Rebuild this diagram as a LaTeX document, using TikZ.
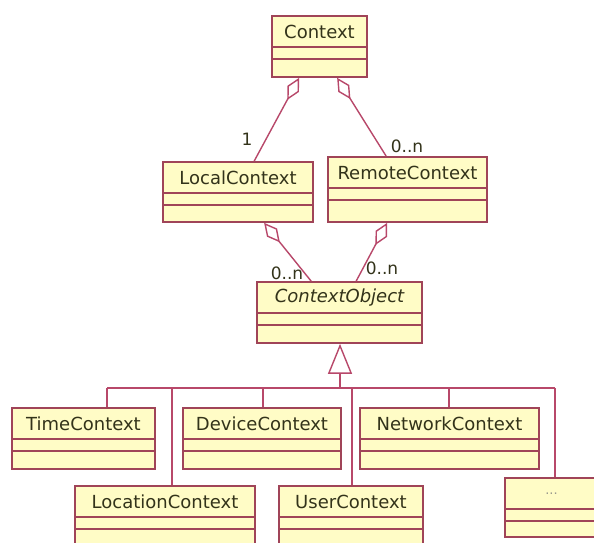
\documentclass[tikz,border=0pt]{standalone}
\usepackage{fontspec}
\setmainfont{DejaVu Sans}
\usetikzlibrary{arrows.meta,fit}
\definecolor{boxfill}{HTML}{FFFCC6}
\definecolor{boxline}{HTML}{A04458}
\definecolor{conn}{HTML}{B8486A}
\definecolor{txt}{HTML}{33331A}
\tikzset{
  clsbox/.style={draw=boxline, fill=boxfill, line width=1.7pt, inner sep=0pt},
  clstext/.style={text=txt, font=\fontsize{18}{21}\selectfont, inner sep=0pt},
  divline/.style={draw=boxline, line width=1.6pt},
  conline/.style={draw=conn, line width=1.4pt},
  agg/.style={conline, {Diamond[open, length=25pt, width=13pt]}-},
  genz/.style={conline, -{Triangle[open, length=30pt, width=24pt]}},
  mult/.style={text=txt, font=\fontsize{17}{20}\selectfont, inner sep=0pt},
}
\newcommand{\umlcls}[6]{%
  \node[clsbox, fit={(#2,#3)(#4,#5)}] (#1) {};
  \node[clstext] (#1-t) at ([yshift=-16.5pt]#1.north) {#6};
  \draw[divline] ([yshift=-32pt]#1.north west) -- ([yshift=-32pt]#1.north east);
  \draw[divline] ([yshift=-44pt]#1.north west) -- ([yshift=-44pt]#1.north east);
}
\begin{document}
\begin{tikzpicture}[x=1pt, y=-1pt]
\useasboundingbox (0,0) rectangle (594,543);
\clip (0,0) rectangle (594,543);
\fill[white] (0,0) rectangle (594,543);

% classes
\umlcls{ctx}{272}{16}{367}{77}{Context}
\umlcls{lc}{163}{162}{313}{222}{LocalContext}
\umlcls{rc}{328}{157}{487}{222}{RemoteContext}
\umlcls{co}{257}{282}{422}{343}{\itshape ContextObject}
\umlcls{tc}{12}{408}{155}{469}{TimeContext}
\umlcls{dc}{183}{408}{341}{469}{DeviceContext}
\umlcls{nc}{360}{408}{539}{469}{NetworkContext}
\umlcls{loc}{75}{486}{255}{575}{LocationContext}
\umlcls{uc}{279}{486}{423}{575}{UserContext}
\umlcls{etc}{505}{478}{598}{537}{\fontsize{13}{15}\selectfont\textcolor{txt!50}{...}}

% aggregations
\draw[agg] ([xshift=28pt]ctx.south west) -- ([xshift=92pt]lc.north west);
\draw[agg] ([xshift=66pt]ctx.south west) -- ([xshift=59pt]rc.north west);
\draw[agg] ([xshift=102pt]lc.south west) -- ([xshift=55pt]co.north west);
\draw[agg] ([xshift=60pt]rc.south west) -- ([xshift=100pt]co.north west);

% multiplicities
\node[mult] (m1) at (247,139) {1};
\node[mult] (m2) at (407,146) {0..n};
\node[mult] (m3) at (287,273) {0..n};
\node[mult] (m4) at (382,268) {0..n};

% generalization bus
\coordinate (busL) at (107,388);
\coordinate (busR) at (555,388);
\coordinate (gen) at (340,388);
\coordinate (d2) at (172,388);
\coordinate (d3) at (263,388);
\coordinate (d4) at (352,388);
\coordinate (d5) at (449,388);
\draw[conline] (busL) -- (busR);
\draw[genz] (gen) -- (gen |- co.south);
\draw[conline] (busL) -- (busL |- tc.north);
\draw[conline] (d2) -- (d2 |- loc.north);
\draw[conline] (d3) -- (d3 |- dc.north);
\draw[conline] (d4) -- (d4 |- uc.north);
\draw[conline] (d5) -- (d5 |- nc.north);
\draw[conline] (busR) -- (busR |- etc.north);
\end{tikzpicture}
\end{document}
